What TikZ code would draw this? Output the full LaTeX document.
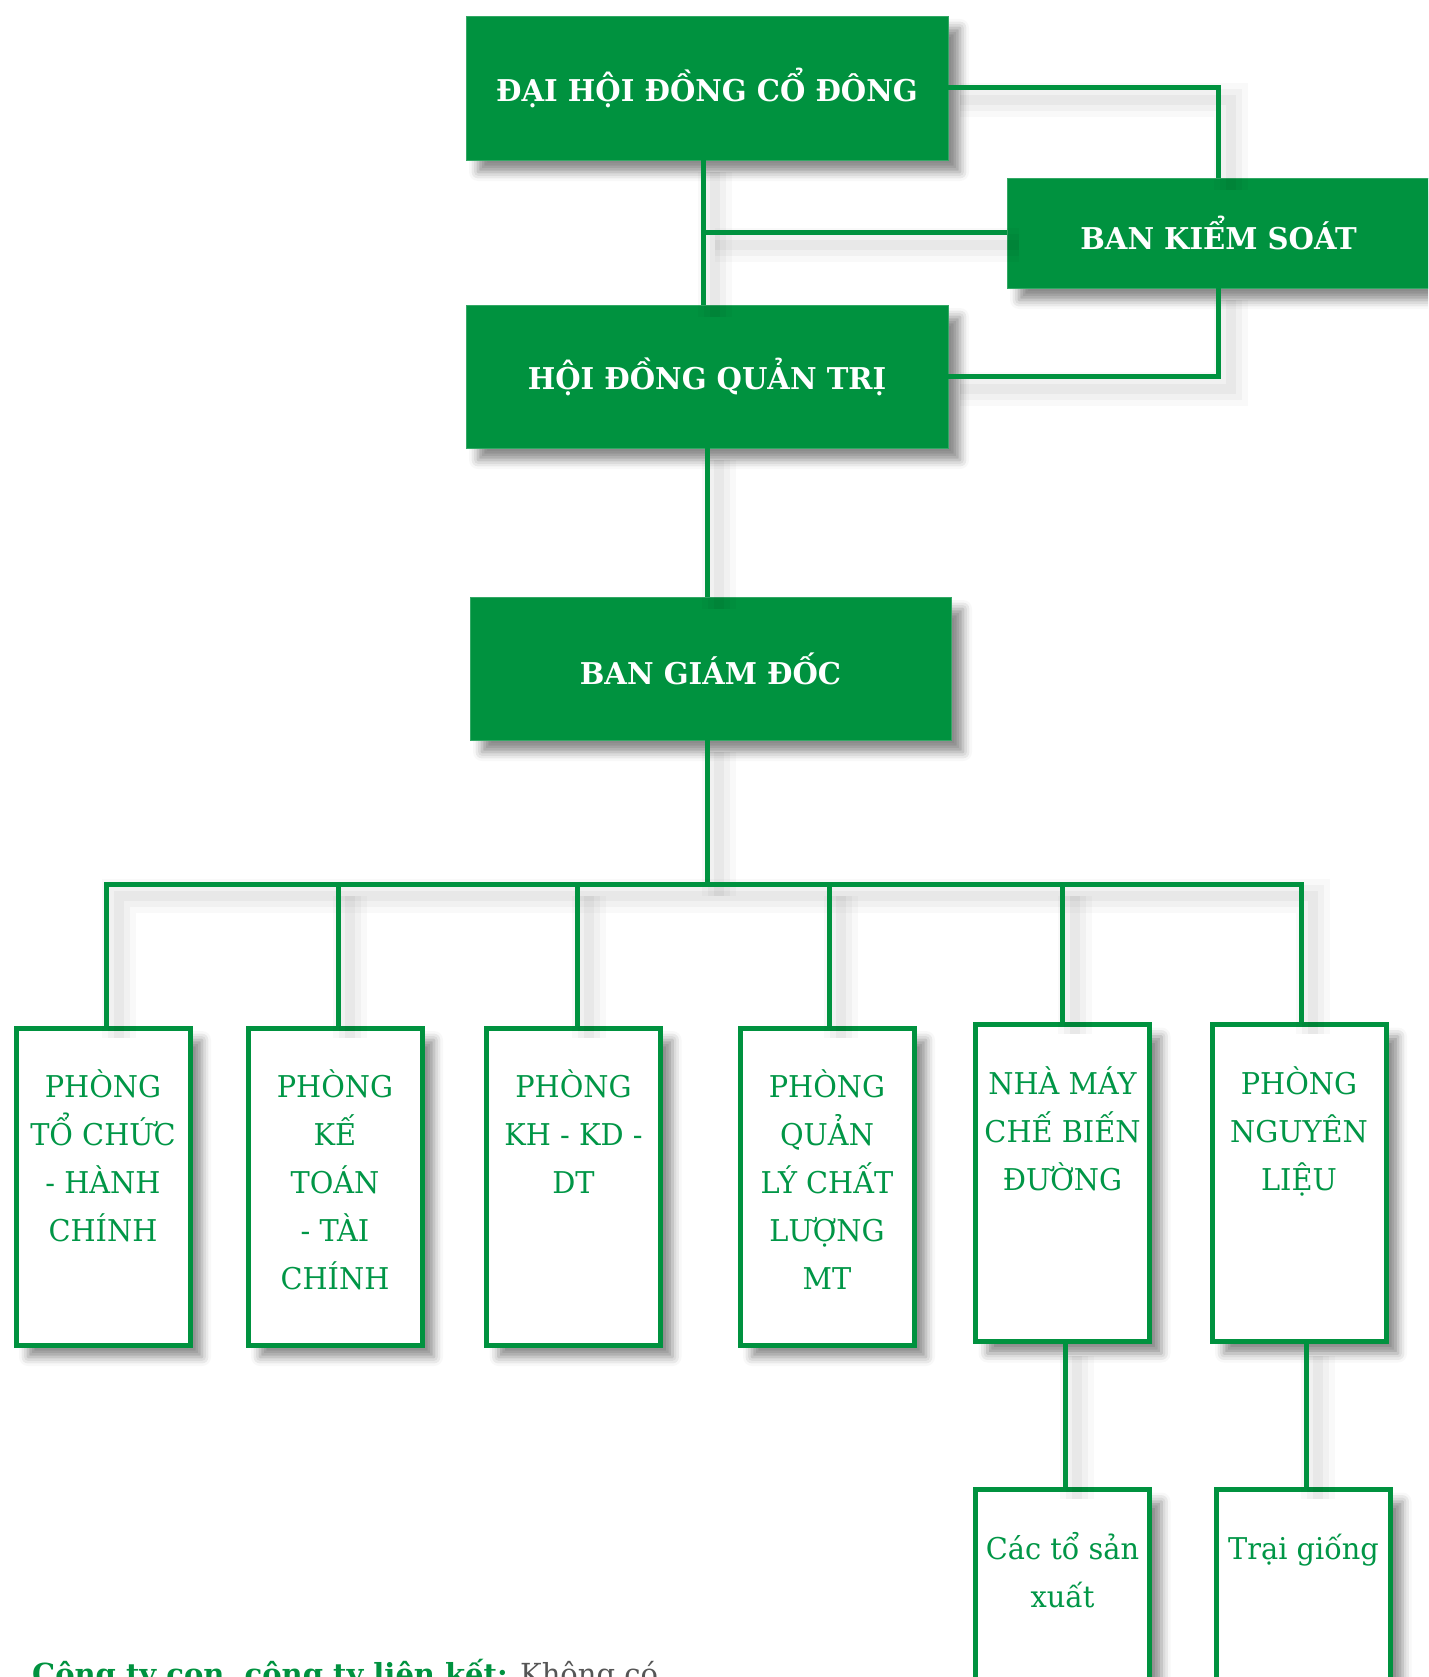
\documentclass[tikz,border=0pt]{standalone}
\usepackage{fontspec}
\setmainfont{DejaVu Serif}
\newfontfamily\unitfont[FakeStretch=0.96]{DejaVu Serif}
\newfontfamily\headfont[FakeStretch=0.97]{DejaVu Serif}
\usetikzlibrary{shadows.blur,calc}
\definecolor{G}{RGB}{0,146,63}
\definecolor{TG}{RGB}{0,150,70}
\definecolor{NoteGray}{RGB}{85,85,85}
\newcommand\unittext[1]{\parbox[t][317pt][t]{174pt}{\unitfont\fontsize{30}{48}\selectfont\centering\rule{0pt}{69.5pt}#1\par}}
\begin{document}
\begin{tikzpicture}[x=1pt,y=-1pt,
  shad/.style={blur shadow={shadow xshift=12pt, shadow yshift=-12pt, shadow blur radius=9pt, shadow opacity=45}},
  headbox/.style={shad, fill=G, draw=G!80!white, line width=0.8pt, inner sep=0pt, text=white,
    font=\headfont\fontsize{30}{36}\selectfont\bfseries, align=center},
  unitbox/.style={shad, fill=white, draw=G, line width=5pt, inner sep=0pt, text=TG},
  conn/.style={draw=G, line width=5pt, line join=miter,
    preaction={draw=black, opacity=0.025, line width=34pt, transform canvas={shift={(12pt,-12pt)}}},
    preaction={draw=black, opacity=0.03, line width=22pt, transform canvas={shift={(12pt,-12pt)}}},
    preaction={draw=black, opacity=0.035, line width=10pt, transform canvas={shift={(12pt,-12pt)}}}}
]
\useasboundingbox (0,0) rectangle (1428,1677);
\clip (0,0) rectangle (1428,1677);

% top level boxes
\node[headbox, minimum width=482pt, minimum height=144pt] (dh) at (707,88) {ĐẠI HỘI ĐỒNG CỔ ĐÔNG};
\node[headbox, minimum width=423pt, minimum height=110pt] (bks) at (1218.5,233) {BAN KIỂM SOÁT};
\node[headbox, minimum width=482pt, minimum height=143pt] (hq) at (707,376.5) {HỘI ĐỒNG QUẢN TRỊ};
\node[headbox, minimum width=481pt, minimum height=143pt] (bgd) at (710.5,668.5) {BAN GIÁM ĐỐC};

% units
\node[unitbox] (b1) at (103,1186.5) {\unittext{PHÒNG\\TỔ CHỨC\\- HÀNH\\CHÍNH}};
\node[unitbox] (b2) at (335,1186.5) {\unittext{PHÒNG\\KẾ\\TOÁN\\- TÀI\\CHÍNH}};
\node[unitbox] (b3) at (573.5,1186.5) {\unittext{PHÒNG\\KH - KD -\\DT}};
\node[unitbox] (b4) at (827,1186.5) {\unittext{PHÒNG\\QUẢN\\LÝ CHẤT\\LƯỢNG\\MT}};
\node[unitbox] (b5) at (1062.5,1183) {\unittext{NHÀ MÁY\\CHẾ BIẾN\\ĐƯỜNG}};
\node[unitbox] (b6) at (1299,1183) {\unittext{PHÒNG\\NGUYÊN\\LIỆU}};
\node[unitbox] (s1) at (1062.5,1648) {\unittext{Các tổ sản\\xuất}};
\node[unitbox] (s2) at (1303.5,1648) {\unittext{Trại giống}};

% connectors
\coordinate (v1) at ([xshift=-4pt]dh.south);
\draw[conn] (v1) -- (v1 |- hq.north);
\draw[conn] (bks.west) -- (bks.west -| v1);
\draw[conn] (dh.east) -| (bks.north);
\draw[conn] (bks.south) |- (hq.east);
\draw[conn] (hq.south) -- (hq.south |- bgd.north);
\coordinate (busL) at (106,884);
\draw[conn] (hq.south |- bgd.south) -- (hq.south |- busL);
\coordinate (d1) at ([xshift=3.5pt]b1.north);
\coordinate (d2) at ([xshift=3pt]b2.north);
\coordinate (d3) at ([xshift=3.5pt]b3.north);
\coordinate (d4) at ([xshift=2pt]b4.north);
\coordinate (d5) at (b5.north);
\coordinate (d6) at ([xshift=2pt]b6.north);
\draw[conn] (d1) -- (d1 |- busL) -- (d6 |- busL) -- (d6);
\foreach \d in {d2,d3,d4,d5} \draw[conn] (\d) -- (\d |- busL);
\draw[conn] ([xshift=2.5pt]b5.south) -- ([xshift=2.5pt]b5.south |- s1.north);
\draw[conn] ([xshift=7pt]b6.south) -- ([xshift=7pt]b6.south |- s2.north);

% note
\node[anchor=base west, inner sep=0pt, font=\fontsize{29}{34}\selectfont] (note) at (32,1684)
  {\textcolor{G}{\bfseries Công ty con, công ty liên kết:} \textcolor{NoteGray}{Không có}};
\end{tikzpicture}
\end{document}
